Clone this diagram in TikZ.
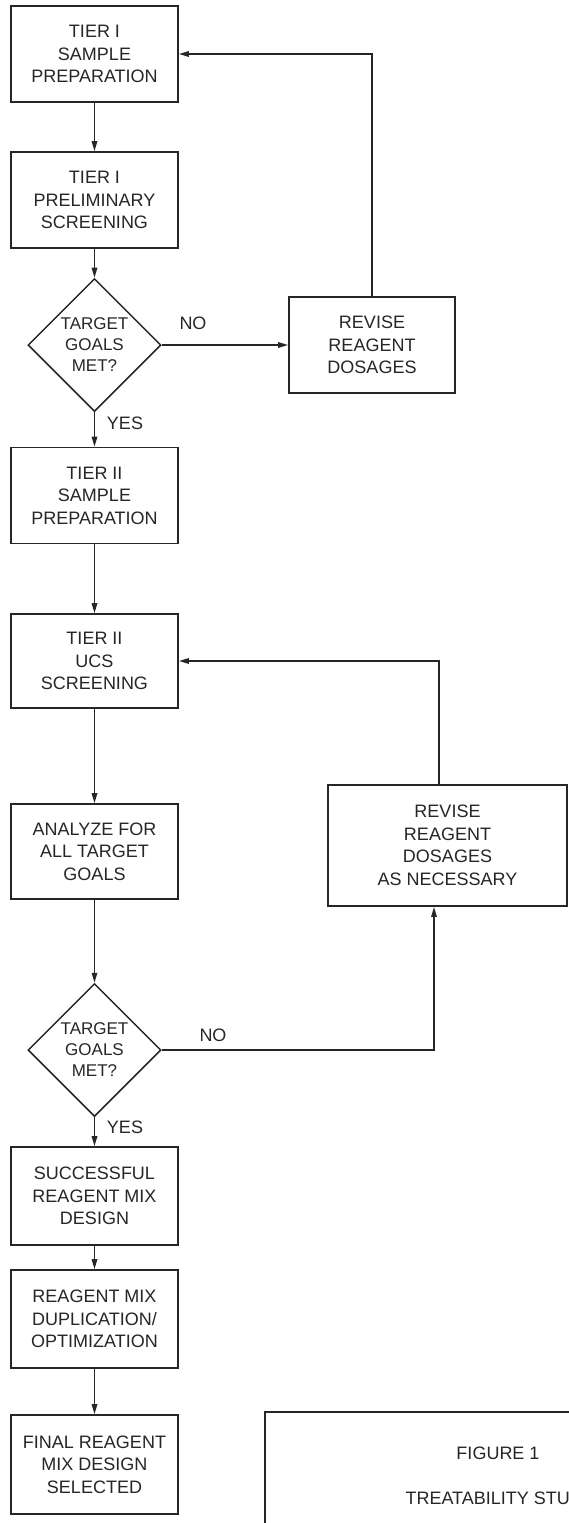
\documentclass[tikz,border=0pt]{standalone}
\usepackage{fontspec}
\setmainfont{Liberation Sans}
\usetikzlibrary{arrows.meta,shapes.geometric}

\begin{document}
\begin{tikzpicture}[x=1pt,y=-1pt,
box/.style={draw=black!85,line width=1.7pt,fill=white,align=center,minimum width=167pt,minimum height=96pt,inner sep=2pt,font=\fontsize{18}{22.5}\selectfont,text=black!85},
dec/.style={diamond,aspect=1,draw=black!85,line width=1.5pt,inner sep=-8pt,minimum width=133pt,minimum height=133pt,align=center,font=\fontsize{17}{21}\selectfont,text=black!85},
lbl/.style={font=\fontsize{18}{22}\selectfont,text=black!85},
arr/.style={-{Triangle[length=10pt,width=5.5pt]},line width=1.6pt,draw=black!85}]
\useasboundingbox (0,0) rectangle (569,1523);
\clip (0,0) rectangle (569,1523);
\node[box] (prep1) at (94.5,54) {TIER I\\SAMPLE\\PREPARATION};
\node[box] (screen1) at (94.5,200) {TIER I\\PRELIMINARY\\SCREENING};
\node[dec] (goal1) at (94.5,345) {TARGET\\GOALS\\MET?};
\node[box,minimum width=166pt] (rev1) at (372,345) {REVISE\\REAGENT\\DOSAGES};
\node[box] (prep2) at (94.5,495.5) {TIER II\\SAMPLE\\PREPARATION};
\node[box,minimum height=94pt] (ucs) at (94.5,661) {TIER II\\UCS\\SCREENING};
\node[box,minimum height=95pt] (anal) at (94.5,851.5) {ANALYZE FOR\\ALL TARGET\\GOALS};
\node[box,minimum width=239pt,minimum height=121pt] (rev2) at (447.5,845.5) {REVISE\\REAGENT\\DOSAGES\\AS NECESSARY};
\node[dec] (goal2) at (94.5,1050) {TARGET\\GOALS\\MET?};
\node[box,minimum height=98pt] (succ) at (94.5,1196) {SUCCESSFUL\\REAGENT MIX\\DESIGN};
\node[box,minimum height=98pt] (dupl) at (94.5,1319) {REAGENT MIX\\DUPLICATION/\\OPTIMIZATION};
\node[box,minimum height=99pt] (final) at (94.5,1464.5) {FINAL REAGENT\\MIX DESIGN\\SELECTED};
\node[lbl] (no1) at (193,323) {NO};
\node[lbl] (yes1) at (125,423) {YES};
\node[lbl] (no2) at (213,1035) {NO};
\node[lbl] (yes2) at (125,1127) {YES};
% title block, cut off at the page edge
\node[draw=black!85,line width=1.7pt,anchor=north west,minimum width=420pt,minimum height=260pt] (fig) at (264,1411) {};
\node[lbl] (figno) at (498,1453) {FIGURE 1};
\node[lbl,anchor=west] (figttl) at (402,1498) {TREATABILITY STU};
\draw[arr](prep1)--(screen1);\draw[arr](screen1)--(goal1);\draw[arr](goal1)--(rev1);\draw[arr](goal1)--(prep2);\draw[arr](prep2)--(ucs);
\draw[arr](ucs)--(anal);\draw[arr](anal)--(goal2);\draw[arr](goal2)--(succ);\draw[arr](succ)--(dupl);\draw[arr](dupl)--(final);
\draw[arr](rev1.north)|-(prep1.east);\draw[arr]([xshift=-8.5pt]rev2.north)|-(ucs.east);\draw[arr](goal2.east)-|([xshift=-13.5pt]rev2.south);
\end{tikzpicture}
\end{document}
